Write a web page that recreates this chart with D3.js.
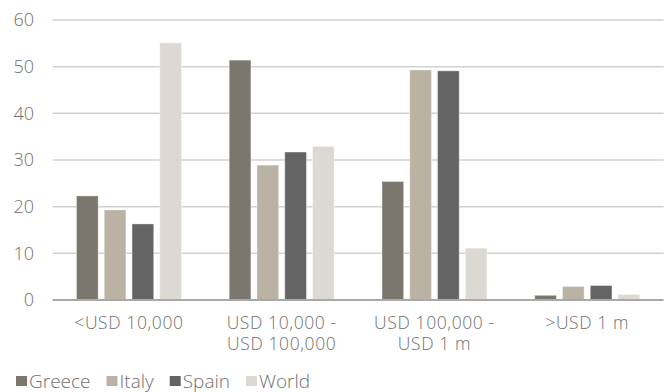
<!DOCTYPE html>
<html>
<head>
<meta charset="utf-8">
<script src="https://cdn.jsdelivr.net/npm/d3@7"></script>
<style>
  body { margin: 0; background: #fff; }
  svg text { font-family: "Open Sans", sans-serif; font-weight: 300; fill: #707070; }
</style>
</head>
<body>
<div id="chart"></div>
<script>
// categories and series
const categories = ["<USD 10,000", "USD 10,000 -|USD 100,000", "USD 100,000 -|USD 1 m", ">USD 1 m"];
const seriesNames = ["Greece", "Italy", "Spain", "World"];
const greece = [22.3, 51.4, 25.4, 1.0];
const italy = [19.3, 28.9, 49.3, 2.9];
const spain = [16.3, 31.7, 49.1, 3.1];
const world = [55.1, 32.9, 11.1, 1.2];
const yTicks = [0, 10, 20, 30, 40, 50, 60];
const colors = ["#7b776e", "#bab3a3", "#646464", "#dcd9d2"];

function init() {
    const w = 668, h = 392;
    const left = 52.6, right = 663.6, top = 20, bottom = 300;

    const values = [greece, italy, spain, world];
    const rows = categories.map((c, i) => {
        const r = { cat: c };
        seriesNames.forEach((s, j) => { r[s] = values[j][i]; });
        return r;
    });

    const svg = d3.select("#chart").append("svg")
        .attr("width", w)
        .attr("height", h);

    const x0 = d3.scaleBand().domain(categories).range([left, right]).padding(0);
    const x1 = d3.scaleBand().domain(seriesNames).range([0, x0.bandwidth()])
        .paddingInner(0.22).paddingOuter(0.86);
    const y = d3.scaleLinear().domain([0, 60]).range([bottom, top]);
    const color = d3.scaleOrdinal().domain(seriesNames).range(colors);

    // gridlines
    svg.append("g")
        .selectAll("line")
        .data(yTicks.filter(d => d > 0))
        .enter()
        .append("line")
        .attr("x1", left)
        .attr("x2", right)
        .attr("y1", d => y(d))
        .attr("y2", d => y(d))
        .attr("stroke", "#d2d2d2")
        .attr("stroke-width", 1.5);

    // y labels
    svg.append("g")
        .selectAll("text")
        .data(yTicks)
        .enter()
        .append("text")
        .attr("x", 34)
        .attr("y", d => y(d))
        .attr("dy", "0.36em")
        .attr("text-anchor", "end")
        .attr("font-size", "18px")
        .text(d => d);

    // bars
    svg.append("g")
        .selectAll("g")
        .data(rows)
        .enter()
        .append("g")
        .attr("transform", d => `translate(${x0(d.cat)},0)`)
        .selectAll("rect")
        .data(d => seriesNames.map(s => ({ key: s, value: d[s] })))
        .enter()
        .append("rect")
        .attr("x", d => x1(d.key))
        .attr("width", x1.bandwidth())
        .attr("y", d => y(d.value))
        .attr("height", d => y(0) - y(d.value))
        .attr("fill", d => color(d.key))
        .attr("stroke", "rgba(255,255,255,0.35)")
        .attr("stroke-width", 1);

    // zero line
    svg.append("line")
        .attr("x1", left)
        .attr("x2", right)
        .attr("y1", y(0))
        .attr("y2", y(0))
        .attr("stroke", "#a8a8a8")
        .attr("stroke-width", 2);

    // category labels (two lines where needed)
    const catLabels = svg.append("g")
        .selectAll("text")
        .data(categories)
        .enter()
        .append("text")
        .attr("x", d => x0(d) + x0.bandwidth() / 2)
        .attr("y", 329)
        .attr("text-anchor", "middle")
        .attr("font-size", "17.5px")
        .attr("letter-spacing", "0.6px");
    catLabels.each(function (d) {
        const cx = x0(d) + x0.bandwidth() / 2;
        d.split("|").forEach((line, i) => {
            d3.select(this).append("tspan")
                .attr("x", cx)
                .attr("dy", i === 0 ? 0 : 21)
                .text(line);
        });
    });

    // legend
    const legend = svg.append("g");
    let lx = 16;
    seriesNames.forEach((s, i) => {
        legend.append("rect")
            .attr("x", lx)
            .attr("y", 376)
            .attr("width", 11)
            .attr("height", 10)
            .attr("fill", colors[i]);
        const t = legend.append("text")
            .attr("x", lx + 13)
            .attr("y", 387.5)
            .attr("font-size", "19px")
            .text(s);
        lx += 13 + t.node().getComputedTextLength() + 16;
    });
}

window.onload = init;
</script>
</body>
</html>
